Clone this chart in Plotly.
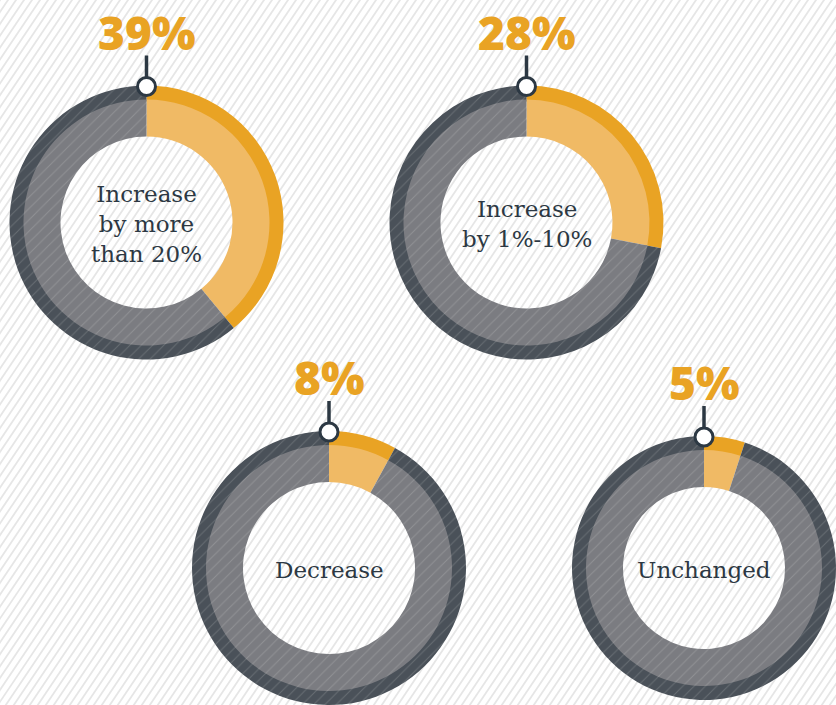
import math
import plotly.graph_objects as go

# ---- data ----
categories = ["Increase by more than 20%", "Increase by 1%-10%", "Decrease", "Unchanged"]
label_lines = [["Increase", "by more", "than 20%"], ["Increase", "by 1%-10%"], ["Decrease"], ["Unchanged"]]
shares = [39, 28, 8, 5]

# ---- layout (pixels) ----
W, H = 836, 705
centers = [(146.5, 222.5, 137), (526.5, 222.5, 137), (329, 568, 137), (704, 568, 132)]
OUTER_W = 14
INNER_W = 37

ORANGE = "#E9A324"
ORANGE_L = "#F0BA65"
DARK = "#4A5159"
GRAY = "#7B7C81"
INK = "#2C3843"


def px(x):
    return x / W


def py(y):
    return 1 - y / H


fig = go.Figure()

shapes = []
# background diagonal hatching
ang = math.radians(56)
dx_full = H / math.tan(ang)
step = 8.0
x0 = -dx_full
while x0 < W + 10:
    shapes.append(dict(type="line", xref="paper", yref="paper",
                       x0=px(x0), y0=py(H + 2), x1=px(x0 + dx_full + 2 / math.tan(ang)), y1=py(-2),
                       line=dict(color="#E6E6E6", width=1.8), layer="below"))
    x0 += step

annotations = []
for i, (cat, val) in enumerate(zip(categories, shares)):
    cx, cy, R = centers[i]
    hole_r = R - OUTER_W - INNER_W
    for radius, hole, colors in [
        (R, (R - OUTER_W - 2) / R, [ORANGE, DARK]),
        (R - OUTER_W, hole_r / (R - OUTER_W), [ORANGE_L, GRAY]),
    ]:
        fig.add_trace(go.Pie(
            values=[val, 100 - val],
            labels=[cat, "Other"],
            sort=False, direction="clockwise", rotation=0,
            hole=hole,
            marker=dict(colors=colors, line=dict(width=0),
                        pattern=dict(shape=["", "/"], fillmode="overlay",
                                     fgcolor="#FFFFFF", fgopacity=0.16,
                                     size=8, solidity=0.12)),
            textinfo="none", hoverinfo="skip", showlegend=False,
            domain=dict(x=[px(cx - radius), px(cx + radius)],
                        y=[py(cy + radius), py(cy - radius)]),
        ))
    # pin marker
    top = cy - R + 1
    rr = 9
    shapes.append(dict(type="line", xref="paper", yref="paper",
                       x0=px(cx), x1=px(cx), y0=py(top - rr), y1=py(top - 31),
                       line=dict(color=INK, width=3.5), layer="above"))
    shapes.append(dict(type="circle", xref="paper", yref="paper",
                       x0=px(cx - rr), x1=px(cx + rr), y0=py(top + rr), y1=py(top - rr),
                       fillcolor="white", line=dict(color=INK, width=3), layer="above"))
    # percent label
    annotations.append(dict(x=px(cx), y=py(top - 55), xref="paper", yref="paper",
                            text=f"{val}%", showarrow=False, xanchor="center", yanchor="middle",
                            font=dict(family="Open Sans", size=46, color=ORANGE, weight=800)))
    # center label
    annotations.append(dict(x=px(cx), y=py(cy), xref="paper", yref="paper",
                            text="<br>".join(label_lines[i]), showarrow=False,
                            xanchor="center", yanchor="middle", align="center", yshift=-2,
                            font=dict(family="DejaVu Serif", size=23, color=INK)))

fig.update_layout(
    width=W, height=H,
    margin=dict(l=0, r=0, t=0, b=0),
    paper_bgcolor="white",
    plot_bgcolor="white",
    shapes=shapes,
    annotations=annotations,
)

fig.write_html("out.html")
